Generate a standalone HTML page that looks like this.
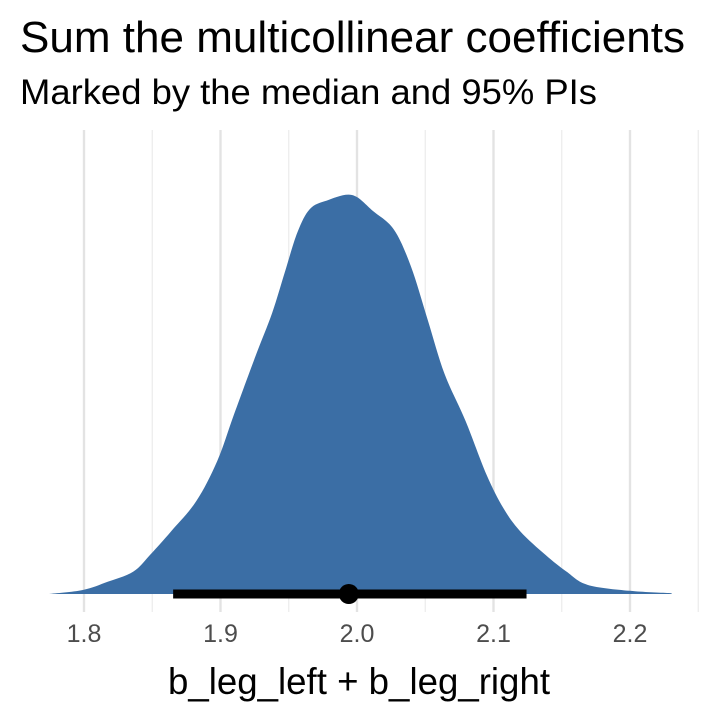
<!DOCTYPE html>
<html><head><meta charset="utf-8"><style>
body{margin:0;background:#fff}
svg{display:block;font-family:"Liberation Sans",Arial,sans-serif}
</style></head><body>
<svg id="chart" width="720" height="720">
<text x="20" y="52" font-size="44" fill="#000" textLength="665" lengthAdjust="spacingAndGlyphs">Sum the multicollinear coefficients</text>
<text x="20" y="104" font-size="35" fill="#000" textLength="577" lengthAdjust="spacingAndGlyphs">Marked by the median and 95% PIs</text>
<g id="grid"></g>
<g id="marks"></g>
<g id="ticks"></g>
<text x="359" y="694" font-size="37" text-anchor="middle" fill="#000" textLength="382" lengthAdjust="spacingAndGlyphs">b_leg_left + b_leg_right</text>
</svg>
<script>
const densX=[1.7744,1.7991,1.8176,1.8361,1.8484,1.8638,1.8823,1.8977,1.9100,1.9254,1.9378,1.9470,1.9563,1.9655,1.9778,1.9963,2.0117,2.0271,2.0395,2.0518,2.0641,2.0795,2.0949,2.1073,2.1196,2.1381,2.1535,2.1689,2.1997,2.2305];
const densY=[0,0.010,0.031,0.056,0.098,0.157,0.233,0.334,0.451,0.594,0.704,0.805,0.906,0.965,0.986,1.0,0.960,0.913,0.821,0.687,0.552,0.434,0.299,0.215,0.157,0.098,0.056,0.023,0.008,0.002];
const interval=[1.8653,2.1242];
const median=[1.994];
const majorTicks=[1.8,1.9,2.0,2.1,2.2];
const tickLabels=["1.8","1.9","2.0","2.1","2.2"];
const minorTicks=[1.85,1.95,2.05,2.15,2.25];
const NS="http://www.w3.org/2000/svg";
const xs=v=>84+(v-1.8)*1365;
const ys=h=>594-h*399;
function mk(tag,attrs,parent){const e=document.createElementNS(NS,tag);for(const k in attrs)e.setAttribute(k,attrs[k]);document.getElementById(parent).appendChild(e);return e;}
minorTicks.forEach(t=>{const l=mk('line',{x1:xs(t),x2:xs(t),y1:130,y2:612,stroke:'#ebebeb','stroke-width':1.2},'grid');

});
majorTicks.forEach((t,i)=>{const l=mk('line',{x1:xs(t),x2:xs(t),y1:130,y2:612,stroke:'#e3e3e3','stroke-width':2.4},'grid');


const tx=mk('text',{x:xs(t),y:642,'font-size':25,'text-anchor':'middle',fill:'#4d4d4d'},'ticks');tx.textContent=tickLabels[i];

});
let d='M'+xs(densX[0])+','+ys(0);
const pts=densX.map((x,i)=>[xs(x),ys(densY[i])]);
for(let i=0;i<pts.length-1;i++){const p0=pts[Math.max(0,i-1)],p1=pts[i],p2=pts[i+1],p3=pts[Math.min(pts.length-1,i+2)];
if(i===0)d+=' L'+p1[0]+','+p1[1];
d+=' C'+(p1[0]+(p2[0]-p0[0])/6)+','+(p1[1]+(p2[1]-p0[1])/6)+' '+(p2[0]-(p3[0]-p1[0])/6)+','+(p2[1]-(p3[1]-p1[1])/6)+' '+p2[0]+','+p2[1];}
d+=' L'+xs(densX[densX.length-1])+','+ys(0)+' Z';
const area=mk('path',{d:d,fill:'#3b6ea5'},'marks');


const pi=mk('line',{x1:xs(interval[0]),x2:xs(interval[1]),y1:594,y2:594,stroke:'#000','stroke-width':9},'marks');


const md=mk('circle',{cx:xs(median[0]),cy:594,r:10,fill:'#000'},'marks');


</script>
</body></html>
